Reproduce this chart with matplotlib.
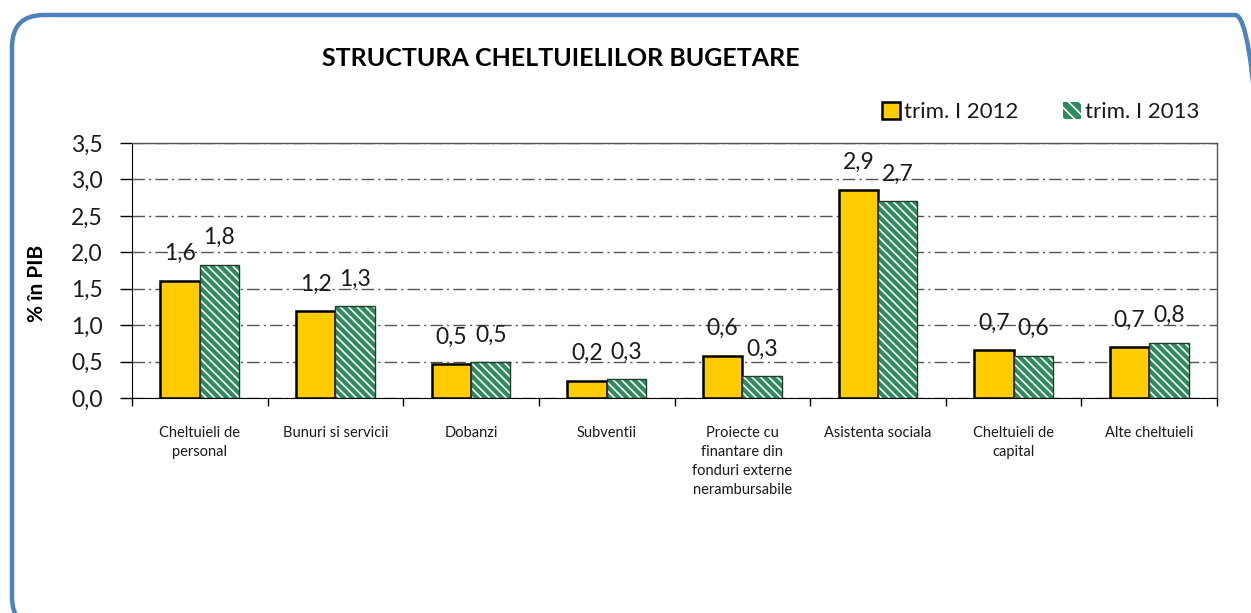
import numpy as np
import matplotlib
matplotlib.use("Agg")
import matplotlib.pyplot as plt
from matplotlib.patches import FancyBboxPatch, Patch
from matplotlib.ticker import FuncFormatter, FixedLocator

plt.rcParams['font.family'] = ['Lato', 'DejaVu Sans']
plt.rcParams['hatch.linewidth'] = 1.2

# data
categories = ["Cheltuieli de\npersonal", "Bunuri si servicii", "Dobanzi", "Subventii",
              "Proiecte cu\nfinantare din\nfonduri externe\nnerambursabile",
              "Asistenta sociala", "Cheltuieli de\ncapital", "Alte cheltuieli"]
trim_2012 = [1.61, 1.19, 0.46, 0.24, 0.58, 2.86, 0.66, 0.70]
trim_2013 = [1.83, 1.26, 0.49, 0.26, 0.30, 2.70, 0.58, 0.76]
series_names = ["trim. I 2012", "trim. I 2013"]

yellow = "#FFCC00"
green = "#2E8B5E"
hatch = "\\\\\\\\"

def comma(v, pos=None):
    return f"{v:.1f}".replace(".", ",")

fig = plt.figure(figsize=(12.51, 6.13), dpi=100)

# background axes in pixel units (y up), for the rounded blue frame
bg = fig.add_axes([0, 0, 1, 1])
bg.set_xlim(0, 1251)
bg.set_ylim(0, 613)
bg.axis("off")
bg.add_patch(FancyBboxPatch((12, -16), 1255, 614, boxstyle="round,pad=0,rounding_size=32",
                            facecolor="none", edgecolor="#4F81BD", linewidth=3.2))

ax = fig.add_axes([132 / 1251, 1 - 398 / 613, (1217 - 132) / 1251, (398 - 143) / 613])

x = np.arange(len(categories))
w = 0.29
ax.bar(x - w / 2, trim_2012, w, color=yellow, edgecolor="black", linewidth=1.8, zorder=3)
ax.bar(x + w / 2, trim_2013, w, color=green, edgecolor="white", hatch=hatch,
       linewidth=0, zorder=3)
ax.bar(x + w / 2, trim_2013, w, fill=False, edgecolor="#1f3d2b", linewidth=1.0, zorder=4)

for xs, vals in ((x - w / 2, trim_2012), (x + w / 2, trim_2013)):
    for xi, v in zip(xs, vals):
        ax.annotate(comma(v), (xi, v), xytext=(0, 27), textcoords="offset pixels",
                    ha="center", va="center", fontsize=16.5, color="#1a1a1a", zorder=5)

ax.set_xlim(-0.5, len(categories) - 0.5)
ax.set_ylim(0, 3.5)
ax.set_yticks(np.arange(0, 3.51, 0.5))
ax.yaxis.set_major_formatter(FuncFormatter(comma))
ax.tick_params(axis="y", labelsize=16.5, length=9, width=1, color="black", pad=12,
               labelcolor="#1a1a1a")

ax.set_xticks(x)
ax.set_xticklabels(categories, fontsize=10.5, linespacing=1.45, color="#1a1a1a")
ax.tick_params(axis="x", which="major", length=0, pad=20)
ax.xaxis.set_minor_locator(FixedLocator(np.arange(-0.5, len(categories), 1.0)))
ax.tick_params(axis="x", which="minor", length=6, width=1, color="black")

ax.grid(axis="y", color="#555555", linewidth=1.0, dashes=(9, 3, 1.5, 3), zorder=0)
for side in ("top", "right"):
    ax.spines[side].set_color("#555555")
    ax.spines[side].set_linewidth(1.0)
ax.spines["left"].set_color("black")
ax.spines["bottom"].set_color("black")

ax.set_ylabel("% în PIB", fontsize=15, fontweight="bold")
ax.yaxis.set_label_coords(-0.078, 0.45)

fig.text(561 / 1251, 1 - 58 / 613, "STRUCTURA CHELTUIELILOR BUGETARE",
         ha="center", va="center", fontsize=18, fontweight="bold", color="black")

handles = [Patch(facecolor=yellow, edgecolor="black", linewidth=1.8),
           Patch(facecolor=green, edgecolor="white", hatch="\\\\\\", linewidth=0)]
fig.legend(handles, series_names, loc="center left", ncol=2,
           bbox_to_anchor=(862 / 1251, 1 - 112 / 613), frameon=False, fontsize=16,
           handlelength=0.8, handleheight=0.8, handletextpad=0.2, columnspacing=2.0,
           labelcolor="#1a1a1a")

fig.savefig("out.png", dpi=100)
